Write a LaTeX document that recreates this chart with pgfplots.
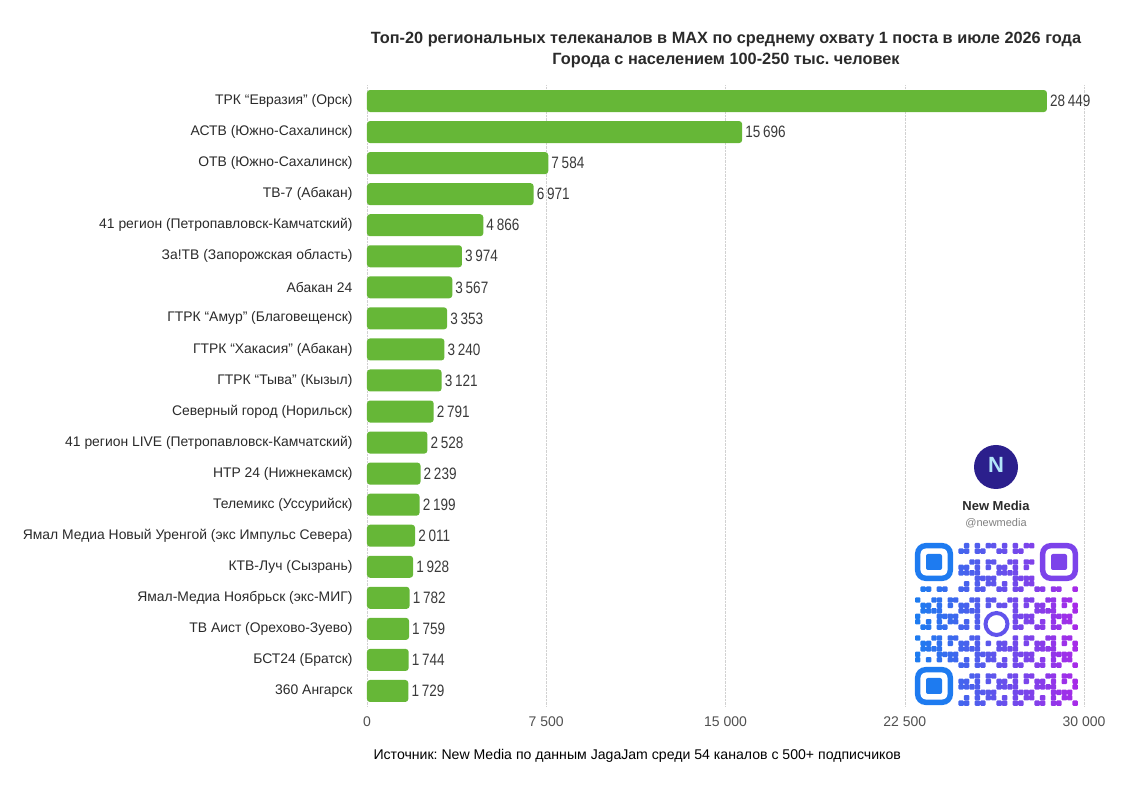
\documentclass[border=0pt]{standalone}
\usepackage{pgfplots}
\usepackage{pgfplotstable}
\pgfplotsset{compat=1.18}
\usepackage{fontspec}
\setmainfont{Liberation Sans}
\newfontfamily\narrowfont[FakeStretch=0.82]{Liberation Sans}
\definecolor{bargreen}{HTML}{66B737}
\definecolor{txt}{HTML}{2A2A2A}
\definecolor{valtxt}{HTML}{3A3A3A}
\definecolor{ticktxt}{HTML}{505050}
\definecolor{qrblue}{HTML}{1E7BF0}
\definecolor{qrpurple}{HTML}{A52BE8}
\definecolor{logobg}{HTML}{2B1F8C}
\frenchspacing

\pgfplotstableread[col sep=semicolon]{
idx;name;val
0;ТРК “Евразия” (Орск);28449
1;АСТВ (Южно-Сахалинск);15696
2;ОТВ (Южно-Сахалинск);7584
3;ТВ-7 (Абакан);6971
4;41 регион (Петропавловск-Камчатский);4866
5;За!ТВ (Запорожская область);3974
6;Абакан 24;3567
7;ГТРК “Амур” (Благовещенск);3353
8;ГТРК “Хакасия” (Абакан);3240
9;ГТРК “Тыва” (Кызыл);3121
10;Северный город (Норильск);2791
11;41 регион LIVE (Петропавловск-Камчатский);2528
12;НТР 24 (Нижнекамск);2239
13;Телемикс (Уссурийск);2199
14;Ямал Медиа Новый Уренгой (экс Импульс Севера);2011
15;КТВ-Луч (Сызрань);1928
16;Ямал-Медиа Ноябрьск (экс-МИГ);1782
17;ТВ Аист (Орехово-Зуево);1759
18;БСТ24 (Братск);1744
19;360 Ангарск;1729
}\datatable

\begin{document}
\begin{tikzpicture}
\path[use as bounding box] (0pt,0pt) rectangle (1144pt,800pt);
\begin{axis}[
  at={(367pt,93.5pt)}, anchor=south west,
  scale only axis, width=717pt, height=621pt,
  xbar, bar width=22pt,
  xmin=0, xmax=30000, ymin=-0.5, ymax=19.5, y dir=reverse,
  xtick={0,7500,15000,22500,30000},
  scaled x ticks=false,
  xticklabels={0,7\ 500,15\ 000,22\ 500,30\ 000},
  ytick={0,...,19},
  yticklabels from table={\datatable}{name},
  axis line style={draw=none},
  major tick length=0pt,
  xmajorgrids, grid style={densely dotted, black!18},
  yticklabel style={font=\fontsize{13.9}{16}\selectfont, text=txt, xshift=-11pt},
  xticklabel style={font=\fontsize{14}{17}\selectfont, text=ticktxt, yshift=-7pt},
  nodes near coords={\pgfmathprintnumber[assume math mode=true,1000 sep={\,}]{\pgfplotspointmeta}},
  nodes near coords style={font=\narrowfont\fontsize{16.5}{19}\selectfont, text=valtxt, anchor=west, inner sep=3pt},
]
\addplot[fill=bargreen, draw=none, rounded corners=3pt] table[x=val, y=idx]{\datatable};
\end{axis}

% titles
\node[font=\bfseries\fontsize{16.3}{19}\selectfont, text=txt] at (726pt,760pt) {Топ-20 региональных телеканалов в MAX по среднему охвату 1 поста в июле 2026 года};
\node[font=\bfseries\fontsize{16.3}{19}\selectfont, text=txt] at (726pt,739pt) {Города с населением 100-250 тыс. человек};
\node[font=\fontsize{14.1}{17}\selectfont, text=black, anchor=west] at (370pt,44pt) {Источник: New Media по данным JagaJam среди 54 каналов с 500+ подписчиков};

% logo
\fill[logobg] (996pt,333pt) circle (22pt);
\node[font=\bfseries\fontsize{22}{24}\selectfont, text=white!70!cyan] at (996pt,335pt) {N};
\node[font=\bfseries\fontsize{13}{16}\selectfont, text=txt] at (996pt,294pt) {New Media};
\node[font=\fontsize{11}{13}\selectfont, text=gray] at (996pt,277pt) {@newmedia};

% QR-like decoration
\foreach \i in {0,...,29}{
  \foreach \j in {0,...,29}{
    \pgfmathtruncatemacro\sk{((\i<8)&&(\j<8)) || ((\i>21)&&(\j<8)) || ((\i<8)&&(\j>21)) || ((\i>11)&&(\i<18)&&(\j>11)&&(\j<18))}
    \pgfmathtruncatemacro\r{mod(\i*\i*7+\j*\j*3+\i*\j*5+\i*11+\j*17,7)}
    \pgfmathtruncatemacro\t{100-int(100*\i/29)}
    \ifnum\sk=0 \ifnum\r<4
      \fill[qrblue!\t!qrpurple, rounded corners=1pt] ({915pt+\i*5.43pt},{257pt-(\j+1)*5.43pt}) rectangle +(5.43pt,5.43pt);
    \fi\fi
  }
}
\draw[qrblue, line width=5.43pt, rounded corners=8pt] (917.7pt,254.3pt) rectangle (950.3pt,221.7pt);
\fill[qrblue, rounded corners=2pt] (926pt,246pt) rectangle (942pt,230pt);
\draw[qrpurple!70!qrblue, line width=5.43pt, rounded corners=8pt] (1042.7pt,254.3pt) rectangle (1075.3pt,221.7pt);
\fill[qrpurple!70!qrblue, rounded corners=2pt] (1051pt,246pt) rectangle (1067pt,230pt);
\draw[qrblue, line width=5.43pt, rounded corners=8pt] (917.7pt,130.3pt) rectangle (950.3pt,97.7pt);
\fill[qrblue, rounded corners=2pt] (926pt,122pt) rectangle (942pt,106pt);
\draw[qrblue!50!qrpurple, line width=4pt] (996.5pt,176pt) circle (11pt);
\end{tikzpicture}
\end{document}
